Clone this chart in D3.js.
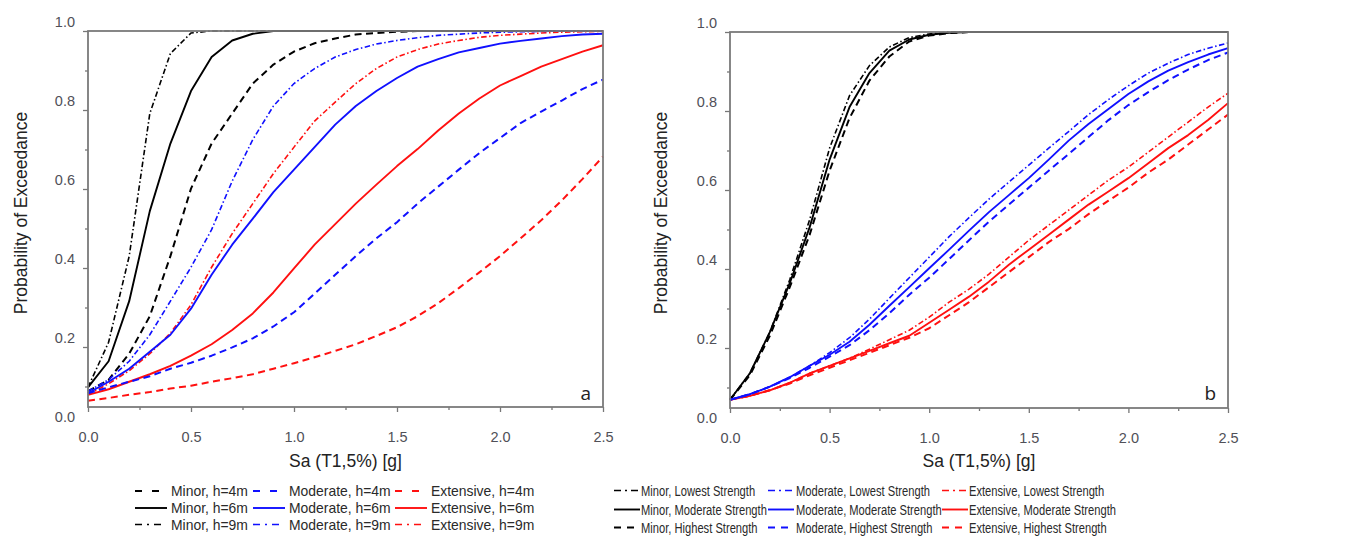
<!DOCTYPE html>
<html>
<head>
<meta charset="utf-8">
<script src="https://cdn.jsdelivr.net/npm/d3@7"></script>
<style>
  html, body { margin: 0; padding: 0; background: #ffffff; }
  svg { display: block; font-family: "Liberation Sans", Arial, Helvetica, sans-serif; }
</style>
</head>
<body>
<svg id="chart" width="1350" height="537"></svg>
<script>
// Spectral acceleration grid, Sa(T1,5%) in g
const saGrid = [0.0, 0.1, 0.2, 0.3, 0.4, 0.5, 0.6, 0.7, 0.8, 0.9, 1.0, 1.1, 1.2,
                1.3, 1.4, 1.5, 1.6, 1.7, 1.8, 1.9, 2.0, 2.1, 2.2, 2.3, 2.4, 2.5];

// Axis ticks
const xTicks = [0.0, 0.5, 1.0, 1.5, 2.0, 2.5];
const xMinorTicks = [0.25, 0.75, 1.25, 1.75, 2.25];
const yTicks = [0.0, 0.2, 0.4, 0.6, 0.8, 1.0];
const yMinorTicks = [0.1, 0.3, 0.5, 0.7, 0.9];

// Panel a: fragility by storey height
const minorH4 = [0.088, 0.117, 0.183, 0.278, 0.430, 0.601, 0.715, 0.791, 0.867, 0.915, 0.948, 0.969, 0.981,
                 0.991, 0.995, 0.998, 1, 1, 1, 1, 1, 1, 1, 1, 1, 1];
const minorH6 = [0.098, 0.164, 0.316, 0.544, 0.715, 0.848, 0.934, 0.976, 0.993, 1, 1, 1, 1,
                 1, 1, 1, 1, 1, 1, 1, 1, 1, 1, 1, 1, 1];
const minorH9 = [0.098, 0.212, 0.430, 0.791, 0.943, 0.995, 1, 1, 1, 1, 1, 1, 1,
                 1, 1, 1, 1, 1, 1, 1, 1, 1, 1, 1, 1, 1];
const moderateH4 = [0.083, 0.098, 0.112, 0.126, 0.145, 0.160, 0.178, 0.199, 0.222, 0.252, 0.288, 0.335, 0.383,
                    0.430, 0.475, 0.516, 0.563, 0.606, 0.649, 0.691, 0.729, 0.767, 0.796, 0.824, 0.853, 0.877];
const moderateH6 = [0.083, 0.112, 0.145, 0.188, 0.231, 0.297, 0.383, 0.459, 0.525, 0.592, 0.649, 0.706, 0.763,
                    0.810, 0.848, 0.881, 0.910, 0.929, 0.946, 0.957, 0.968, 0.975, 0.981, 0.987, 0.991, 0.993];
const moderateH9 = [0.088, 0.117, 0.164, 0.231, 0.316, 0.402, 0.497, 0.620, 0.725, 0.810, 0.867, 0.905, 0.934,
                    0.953, 0.967, 0.976, 0.983, 0.989, 0.992, 0.995, 0.997, 0.998, 0.999, 1, 1, 1];
const extensiveH4 = [0.064, 0.071, 0.079, 0.086, 0.095, 0.102, 0.112, 0.121, 0.131, 0.145, 0.159, 0.174, 0.190,
                     0.207, 0.228, 0.250, 0.278, 0.311, 0.349, 0.389, 0.430, 0.475, 0.521, 0.571, 0.625, 0.682];
const extensiveH6 = [0.079, 0.093, 0.112, 0.131, 0.152, 0.178, 0.207, 0.243, 0.285, 0.338, 0.399, 0.459, 0.511,
                     0.563, 0.611, 0.658, 0.701, 0.748, 0.791, 0.829, 0.862, 0.886, 0.910, 0.929, 0.948, 0.964];
const extensiveH9 = [0.079, 0.107, 0.140, 0.183, 0.235, 0.307, 0.402, 0.487, 0.563, 0.639, 0.706, 0.772, 0.820,
                     0.867, 0.905, 0.934, 0.953, 0.967, 0.976, 0.984, 0.989, 0.992, 0.995, 0.997, 0.998, 0.999];

// Panel b: fragility by masonry strength
const minorLowest = [0.069, 0.136, 0.240, 0.373, 0.525, 0.706, 0.839, 0.915, 0.962, 0.986, 0.995, 1, 1,
                     1, 1, 1, 1, 1, 1, 1, 1, 1, 1, 1, 1, 1];
const minorModerate = [0.069, 0.136, 0.240, 0.364, 0.506, 0.677, 0.810, 0.896, 0.953, 0.981, 0.993, 0.998, 1,
                       1, 1, 1, 1, 1, 1, 1, 1, 1, 1, 1, 1, 1];
const minorHighest = [0.069, 0.131, 0.231, 0.354, 0.487, 0.649, 0.782, 0.877, 0.938, 0.976, 0.991, 0.997, 1,
                      1, 1, 1, 1, 1, 1, 1, 1, 1, 1, 1, 1, 1];
const moderateLowest = [0.069, 0.083, 0.102, 0.126, 0.155, 0.188, 0.226, 0.273, 0.326, 0.378, 0.430, 0.482, 0.530,
                        0.577, 0.620, 0.663, 0.706, 0.748, 0.791, 0.829, 0.864, 0.896, 0.921, 0.943, 0.959, 0.972];
const moderateModerate = [0.069, 0.083, 0.102, 0.126, 0.155, 0.183, 0.216, 0.259, 0.307, 0.354, 0.402, 0.449, 0.497,
                          0.544, 0.587, 0.630, 0.677, 0.725, 0.767, 0.805, 0.843, 0.875, 0.902, 0.924, 0.943, 0.959];
const moderateHighest = [0.069, 0.083, 0.102, 0.124, 0.150, 0.178, 0.207, 0.245, 0.288, 0.335, 0.378, 0.425, 0.473,
                         0.520, 0.563, 0.606, 0.649, 0.691, 0.734, 0.777, 0.815, 0.848, 0.878, 0.905, 0.929, 0.948];
const extensiveLowest = [0.069, 0.079, 0.093, 0.112, 0.136, 0.155, 0.174, 0.197, 0.221, 0.245, 0.278, 0.316, 0.349,
                         0.387, 0.430, 0.473, 0.511, 0.549, 0.587, 0.625, 0.658, 0.696, 0.734, 0.772, 0.810, 0.845];
const extensiveModerate = [0.069, 0.079, 0.093, 0.112, 0.136, 0.155, 0.174, 0.193, 0.212, 0.231, 0.264, 0.297, 0.330,
                           0.368, 0.411, 0.449, 0.487, 0.525, 0.563, 0.596, 0.630, 0.668, 0.706, 0.739, 0.777, 0.820];
const extensiveHighest = [0.069, 0.079, 0.093, 0.110, 0.131, 0.150, 0.169, 0.188, 0.207, 0.226, 0.250, 0.283, 0.316,
                          0.354, 0.392, 0.430, 0.468, 0.501, 0.539, 0.573, 0.606, 0.644, 0.677, 0.715, 0.753, 0.791];

// Legend texts
const legendLabelsA = [
  ["Minor, h=4m", "Moderate, h=4m", "Extensive, h=4m"],
  ["Minor, h=6m", "Moderate, h=6m", "Extensive, h=6m"],
  ["Minor, h=9m", "Moderate, h=9m", "Extensive, h=9m"]
];
const legendLabelsB = [
  ["Minor, Lowest Strength", "Moderate, Lowest Strength", "Extensive, Lowest Strength"],
  ["Minor, Moderate Strength", "Moderate, Moderate Strength", "Extensive, Moderate Strength"],
  ["Minor, Highest Strength", "Moderate, Highest Strength", "Extensive, Highest Strength"]
];

const xTitle = "Sa (T1,5%) [g]";
const yTitle = "Probability of Exceedance";

// ---- styling ----
const COLORS = { minor: "#000000", moderate: "#1010ff", extensive: "#ff1010" };
const STYLES = {
  dash:    { dash: "7,4.5",             width: 2.0 },
  solid:   { dash: null,                width: 1.9 },
  dashdot: { dash: "5.5,2.5,1.5,2.5",   width: 1.6 }
};

const svg = d3.select("#chart");

function styleTickLines(s) {
  s.select(".domain").remove();
  s.selectAll("line").attr("stroke", "#777").attr("stroke-width", 1.3);
}

function drawPanel(p) {
  const x = d3.scaleLinear().domain([0, 2.5]).range([p.left, p.right]);
  const y = d3.scaleLinear().domain([0, 1]).range([p.zeroY, p.top]);
  const g = svg.append("g");

  // minor ticks
  g.append("g").attr("transform", `translate(0,${p.bottom})`)
    .call(d3.axisBottom(x).tickValues(xMinorTicks).tickSize(3).tickFormat(""))
    .call(styleTickLines);
  g.append("g").attr("transform", `translate(${p.left},0)`)
    .call(d3.axisLeft(y).tickValues(yMinorTicks).tickSize(3).tickFormat(""))
    .call(styleTickLines);

  // major x axis
  g.append("g").attr("transform", `translate(0,${p.bottom})`)
    .call(d3.axisBottom(x).tickValues(xTicks).tickSize(5).tickPadding(20).tickFormat(d3.format(".1f")))
    .call(styleTickLines)
    .call(s => s.selectAll("text").attr("fill", "#505058").attr("font-size", 14.5)
      .attr("font-family", "'Liberation Sans', Arial, sans-serif"));

  // major y axis (labels sit slightly above their ticks)
  g.append("g").attr("transform", `translate(${p.left},0)`)
    .call(d3.axisLeft(y).tickValues(yTicks).tickSize(5).tickPadding(8).tickFormat(d3.format(".1f")))
    .call(styleTickLines)
    .call(s => s.selectAll(".tick").filter(d => y(d) > p.bottom).select("line").remove())
    .call(s => s.selectAll("text").attr("fill", "#505058").attr("font-size", 14.5).attr("y", -9)
      .attr("font-family", "'Liberation Sans', Arial, sans-serif"));

  // curves
  const line = d3.line().x((d, i) => x(saGrid[i])).y(d => y(d)).curve(d3.curveLinear);
  p.series.forEach(s => {
    const st = STYLES[s.style];
    g.append("path")
      .datum(s.values)
      .attr("d", line)
      .attr("fill", "none")
      .attr("stroke", COLORS[s.state])
      .attr("stroke-width", st.width)
      .attr("stroke-dasharray", st.dash)
      .attr("stroke-linejoin", "round");
  });

  // frame
  g.append("rect")
    .attr("x", p.left).attr("y", p.top)
    .attr("width", p.right - p.left).attr("height", p.bottom - p.top)
    .attr("fill", "none").attr("stroke", "#7a7a7a").attr("stroke-width", 1.8);

  // titles
  g.append("text")
    .attr("x", (p.left + p.right) / 2).attr("y", 467)
    .attr("text-anchor", "middle").attr("font-size", 17.5).attr("fill", "#222")
    .text(xTitle);
  g.append("text")
    .attr("transform", `translate(${p.yTitleX},213) rotate(-90)`)
    .attr("text-anchor", "middle").attr("font-size", 17.5).attr("fill", "#222")
    .text(yTitle);

  // panel letter
  g.append("text")
    .attr("x", p.right - 12).attr("y", 400)
    .attr("text-anchor", "end").attr("font-size", 19).attr("fill", "#222")
    .attr("font-family", "'Open Sans', 'Liberation Sans', sans-serif")
    .text(p.letter);
}

function drawLegend(cfg) {
  const g = svg.append("g");
  cfg.rows.forEach((row, r) => {
    const yy = cfg.rowY[r];
    const style = cfg.rowStyles[r];
    row.forEach((label, c) => {
      const x0 = cfg.lineX[c];
      g.append("line")
        .attr("x1", x0).attr("x2", x0 + cfg.sampleLen[style])
        .attr("y1", yy).attr("y2", yy)
        .attr("stroke", COLORS[cfg.states[c]])
        .attr("stroke-width", STYLES[style].width)
        .attr("stroke-dasharray", cfg.dash[style]);
      g.append("text")
        .attr("transform", `translate(${cfg.textX[c]},${yy + 5}) scale(${cfg.squeeze},1)`)
        .attr("font-size", cfg.fontSize).attr("fill", "#2a2a2a")
        .text(label);
    });
  });
}

const states = ["minor", "moderate", "extensive"];

drawPanel({
  left: 88, right: 603, top: 31, bottom: 407, zeroY: 426, yTitleX: 27, letter: "a",
  series: [
    { values: minorH4, state: "minor", style: "dash" },
    { values: minorH6, state: "minor", style: "solid" },
    { values: minorH9, state: "minor", style: "dashdot" },
    { values: extensiveH4, state: "extensive", style: "dash" },
    { values: extensiveH6, state: "extensive", style: "solid" },
    { values: extensiveH9, state: "extensive", style: "dashdot" },
    { values: moderateH4, state: "moderate", style: "dash" },
    { values: moderateH6, state: "moderate", style: "solid" },
    { values: moderateH9, state: "moderate", style: "dashdot" }
  ]
});

drawPanel({
  left: 730, right: 1228, top: 32, bottom: 408, zeroY: 427, yTitleX: 667, letter: "b",
  series: [
    { values: minorLowest, state: "minor", style: "dashdot" },
    { values: minorModerate, state: "minor", style: "solid" },
    { values: minorHighest, state: "minor", style: "dash" },
    { values: extensiveLowest, state: "extensive", style: "dashdot" },
    { values: extensiveModerate, state: "extensive", style: "solid" },
    { values: extensiveHighest, state: "extensive", style: "dash" },
    { values: moderateLowest, state: "moderate", style: "dashdot" },
    { values: moderateModerate, state: "moderate", style: "solid" },
    { values: moderateHighest, state: "moderate", style: "dash" }
  ]
});

drawLegend({
  rows: legendLabelsA, states,
  rowStyles: ["dash", "solid", "dashdot"],
  rowY: [491, 508, 524.5],
  lineX: [135, 253, 395],
  sampleLen: { dash: 25, solid: 32, dashdot: 27 },
  textX: [171, 289, 431],
  dash: { dash: "7,10", solid: null, dashdot: "7,5,2,5" },
  fontSize: 14.5,
  squeeze: 0.96
});

drawLegend({
  rows: legendLabelsB, states,
  rowStyles: ["dashdot", "solid", "dash"],
  rowY: [490.5, 509.5, 527.5],
  lineX: [614, 768, 942],
  sampleLen: { dash: 20, solid: 26, dashdot: 24 },
  textX: [641, 796, 969],
  dash: { dash: "7,6", solid: null, dashdot: "7,4,2,4" },
  fontSize: 15.5,
  squeeze: 0.72
});
</script>
</body>
</html>
